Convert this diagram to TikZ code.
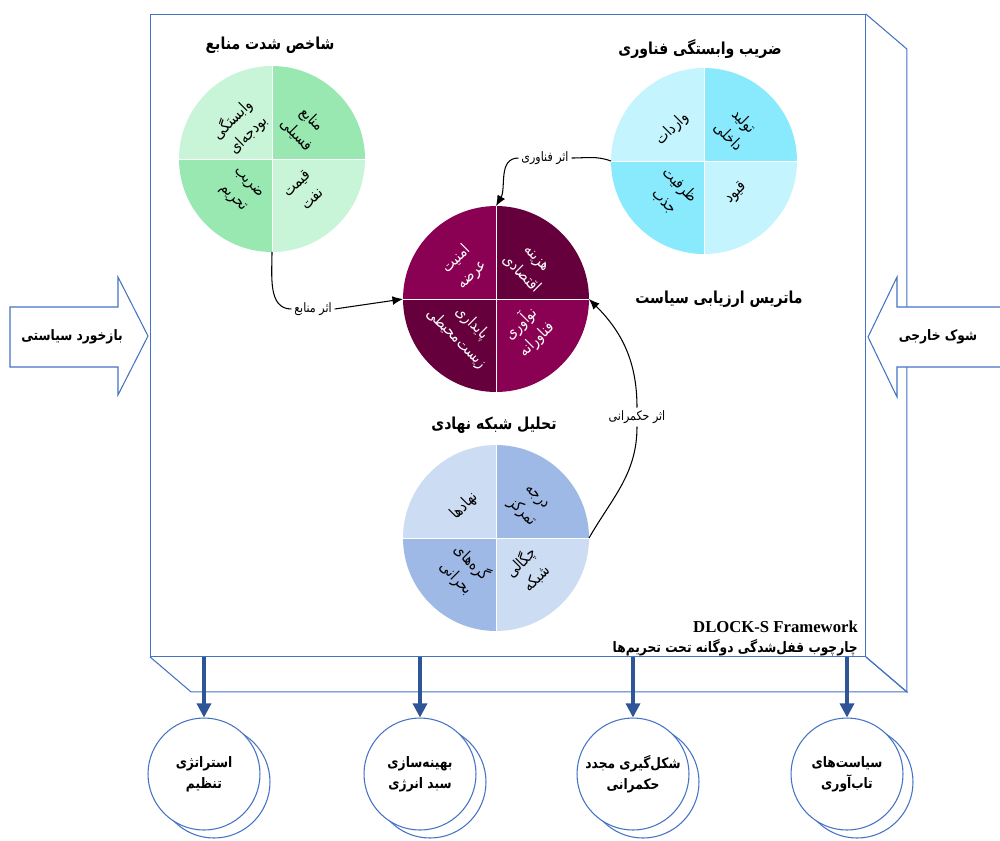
\documentclass[tikz,border=0pt]{standalone}
\usepackage{fontspec}
\usetikzlibrary{arrows.meta,positioning}
\TeXXeTstate=1
\newfontfamily\fafont[Script=Arabic, FakeStretch=0.85]{DejaVu Sans}
\newfontfamily\serfont{Liberation Serif}
\newcommand{\rl}[1]{\beginR#1\endR}

\definecolor{frameblue}{HTML}{4472C4}
\definecolor{outblue}{HTML}{2F5597}
\definecolor{resdark}{HTML}{99E8B2}
\definecolor{reslight}{HTML}{C8F4D7}
\definecolor{tecdark}{HTML}{88EAFC}
\definecolor{teclight}{HTML}{C4F4FE}
\definecolor{matdark}{HTML}{65003C}
\definecolor{matlight}{HTML}{8A0052}
\definecolor{insdark}{HTML}{9FB9E6}
\definecolor{inslight}{HTML}{CCDCF2}

% pie with four quadrants: name, centre, colour NE/SW, colour NW/SE
\newcommand{\piechart}[4]{%
    \node[circle, minimum size=3.72cm, inner sep=0, outer sep=0] (#1) at (#2) {};
    \fill[#3] (#1.center) -- (#1.east) arc[start angle=0, end angle=90, radius=1.86cm] -- cycle;
    \fill[#4] (#1.center) -- (#1.north) arc[start angle=90, end angle=180, radius=1.86cm] -- cycle;
    \fill[#3] (#1.center) -- (#1.west) arc[start angle=180, end angle=270, radius=1.86cm] -- cycle;
    \fill[#4] (#1.center) -- (#1.south) arc[start angle=270, end angle=360, radius=1.86cm] -- cycle;
    \draw[white, line width=0.4pt] (#1.west) -- (#1.east) (#1.north) -- (#1.south);
}

\begin{document}
\begin{tikzpicture}[x=0.02cm, y=0.02cm,
    > = Latex,
    every node/.style={font=\fafont},
    title/.style={font=\fafont\bfseries\fontsize{9.4}{11}\selectfont},
    qlabel/.style={align=center, inner sep=1pt, font=\fafont\fontsize{9}{12.5}\selectfont},
    effect/.style={inner sep=1.5pt, font=\fafont\fontsize{7.4}{9}\selectfont},
    link/.style={->, >={Latex[length=6pt,width=5pt]}, line width=0.6pt},
    blockarrow/.style={draw=frameblue, fill=white, line width=0.6pt},
    arrowtext/.style={font=\fafont\bfseries\fontsize{8.2}{10}\selectfont},
    outcome/.style={circle, draw=frameblue, fill=white, line width=0.6pt,
        minimum size=2.24cm, inner sep=0, align=center,
        font=\fafont\bfseries\fontsize{8.2}{12}\selectfont},
    outarrow/.style={-{Triangle[length=8pt,width=8pt]}, outblue, line width=1.8pt}]

    \useasboundingbox (0,0) rectangle (1000,-840);

    % the framework box
    \node[draw=frameblue, fill=white, line width=0.6pt, inner sep=0, outer sep=0,
        minimum width=14.32cm, minimum height=12.86cm] (frame) at (508,-335.5) {};
    \draw[frameblue, line width=0.6pt] (frame.north east) -- ++(41,-35) -- ++(0,-643) -- (frame.south east);
    \draw[frameblue, line width=0.6pt] (frame.south west) -- ++(41,-35) -- ++(716,0) -- (frame.south east);

    % inputs
    \filldraw[blockarrow] (10,-307) -- (118,-307) -- (118,-277) -- (148,-336)
        -- (118,-395) -- (118,-367) -- (10,-367) -- cycle;
    \node[arrowtext] (feedback) at (72,-337) {\rl{بازخورد سیاستی}};
    \filldraw[blockarrow] (1010,-307) -- (897,-307) -- (897,-277) -- (868,-337)
        -- (897,-397) -- (897,-367) -- (1010,-367) -- cycle;
    \node[arrowtext] (shock) at (938,-337) {\rl{شوک خارجی}};

    % resources
    \piechart{res}{272,-159}{resdark}{reslight}
    \node[title] (restitle) at (270,-45) {\rl{شاخص شدت منابع}};
    \node[qlabel, rotate=45] (resbudget) at ([shift={(-32,32)}]res.center) {\rl{وابستگی}\\\rl{بودجه‌ای}};
    \node[qlabel, rotate=-45] (resfossil) at ([shift={(32,32)}]res.center) {\rl{منابع}\\\rl{فسیلی}};
    \node[qlabel, rotate=-45] (ressanction) at ([shift={(-32,-32)}]res.center) {\rl{ضریب}\\\rl{تحریم}};
    \node[qlabel, rotate=45] (resoil) at ([shift={(32,-32)}]res.center) {\rl{قیمت}\\\rl{نفت}};

    % technology
    \piechart{tec}{704,-161}{tecdark}{teclight}
    \node[title] (tectitle) at (700,-49) {\rl{ضریب وابستگی فناوری}};
    \node[qlabel, rotate=45] (tecimport) at ([shift={(-32,32)}]tec.center) {\rl{واردات}};
    \node[qlabel, rotate=-45] (tecdomestic) at ([shift={(32,32)}]tec.center) {\rl{تولید}\\\rl{داخلی}};
    \node[qlabel, rotate=-45] (tecabsorb) at ([shift={(-32,-32)}]tec.center) {\rl{ظرفیت}\\\rl{جذب}};
    \node[qlabel, rotate=45] (tecconstr) at ([shift={(32,-32)}]tec.center) {\rl{قیود}};

    % policy matrix
    \piechart{mat}{496,-299}{matdark}{matlight}
    \node[title] (mattitle) at (719,-299) {\rl{ماتریس ارزیابی سیاست}};
    \node[qlabel, text=white, rotate=45] (matsupply) at ([shift={(-32,32)}]mat.center) {\rl{امنیت}\\\rl{عرضه}};
    \node[qlabel, text=white, rotate=-45] (matcost) at ([shift={(32,32)}]mat.center) {\rl{هزینه}\\\rl{اقتصادی}};
    \node[qlabel, text=white, rotate=-45] (matenv) at ([shift={(-32,-32)}]mat.center) {\rl{پایداری}\\\rl{زیست‌محیطی}};
    \node[qlabel, text=white, rotate=45] (matinnov) at ([shift={(32,-32)}]mat.center) {\rl{نوآوری}\\\rl{فناورانه}};

    % institutional network
    \piechart{ins}{496,-538}{insdark}{inslight}
    \node[title] (institle) at (494,-425) {\rl{تحلیل شبکه نهادی}};
    \node[qlabel, rotate=45] (insactors) at ([shift={(-32,32)}]ins.center) {\rl{نهادها}};
    \node[qlabel, rotate=-45] (inscentral) at ([shift={(32,32)}]ins.center) {\rl{درجه}\\\rl{تمرکز}};
    \node[qlabel, rotate=-45] (inscritical) at ([shift={(-32,-32)}]ins.center) {\rl{گره‌های}\\\rl{بحرانی}};
    \node[qlabel, rotate=45] (insdensity) at ([shift={(32,-32)}]ins.center) {\rl{چگالی}\\\rl{شبکه}};

    % effects on the matrix
    \node[effect] (efftech) at (545,-158) {\rl{اثر فناوری}};
    \node[effect] (effres) at (313,-309) {\rl{اثر منابع}};
    \node[effect] (effgov) at (637,-417) {\rl{اثر حکمرانی}};
    \draw[line width=0.6pt] (tec.west) to[out=160, in=0] (efftech.east);
    \draw[link] (efftech.west) to[out=180, in=60] (mat.north);
    \draw[line width=0.6pt] (res.south) to[out=-90, in=180] (effres.west);
    \draw[link] (effres.east) -- (mat.west);
    \draw[line width=0.6pt] (ins.east) to[out=60, in=-90] (effgov.south);
    \draw[link] (effgov.north) to[out=90, in=-45] (mat.east);

    \node[font=\serfont\bfseries\fontsize{9.5}{12}\selectfont, anchor=east] (fwname) at (864,-627) {DLOCK-S Framework};
    \node[font=\fafont\bfseries\fontsize{8.2}{10}\selectfont, anchor=east] (fwsub) at (864,-648) {\rl{چارچوب قفل‌شدگی دوگانه تحت تحریم‌ها}};

    % outputs
    \node[outcome] (strat2) at (214,-782) {};
    \node[outcome] (strat) at (204,-774) {\rl{استراتژی}\\\rl{تنظیم}};
    \node[outcome] (energy2) at (430,-782) {};
    \node[outcome] (energy) at (420,-774) {\rl{بهینه‌سازی}\\\rl{سبد انرژی}};
    \node[outcome] (govern2) at (643,-782) {};
    \node[outcome] (govern) at (633,-774) {\rl{شکل‌گیری مجدد}\\\rl{حکمرانی}};
    \node[outcome] (resil2) at (857,-782) {};
    \node[outcome] (resil) at (847,-774) {\rl{سیاست‌های}\\\rl{تاب‌آوری}};

    \draw[outarrow] (frame.south -| strat) -- (strat);
    \draw[outarrow] (frame.south -| energy) -- (energy);
    \draw[outarrow] (frame.south -| govern) -- (govern);
    \draw[outarrow] (frame.south -| resil) -- (resil);
\end{tikzpicture}
\end{document}
